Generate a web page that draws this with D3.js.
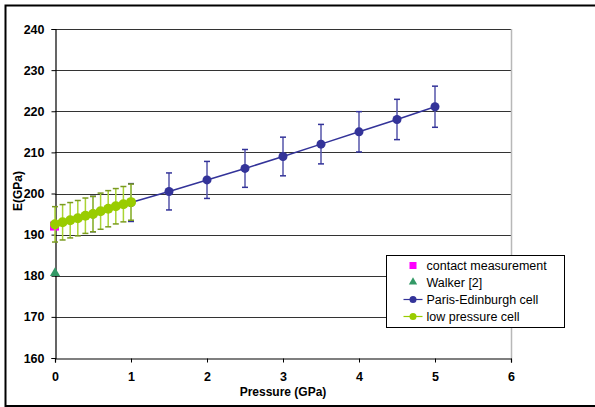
<!DOCTYPE html>
<html>
<head>
<meta charset="utf-8">
<script src="https://cdn.jsdelivr.net/npm/d3@7"></script>
<style>
  body { margin: 0; background: #fff; }
  svg { font-family: "Liberation Sans", Arial, sans-serif; }
</style>
</head>
<body>
<div id="chart"></div>
<script>
// data
const lowP = [0, 0.1, 0.2, 0.3, 0.4, 0.5, 0.6, 0.7, 0.8, 0.9, 1.0];
const lowE = [192.5, 193.0, 193.5, 194.0, 194.6, 195.0, 195.7, 196.3, 196.9, 197.4, 197.9];
const lowErr = [4.3, 4.3, 4.3, 4.3, 4.3, 4.3, 4.4, 4.4, 4.3, 4.3, 4.4];

const peP = [0.5, 1.0, 1.5, 2.0, 2.5, 3.0, 3.5, 4.0, 4.5, 5.0];
const peE = [195.0, 197.8, 200.5, 203.3, 206.1, 209.0, 212.0, 215.0, 218.0, 221.1];
const peErr = [4.3, 4.6, 4.5, 4.5, 4.6, 4.7, 4.8, 4.9, 4.9, 5.0];

const contact = [{ p: 0, e: 192.2 }];
const walker = [{ p: 0, e: 180.4 }];

const xTicks = [0, 1, 2, 3, 4, 5, 6];
const yTicks = [160, 170, 180, 190, 200, 210, 220, 230, 240];

const W = 595, H = 407;
const margin = { top: 29, right: 84, bottom: 49, left: 55 };

const svg = d3.select("#chart").append("svg")
  .attr("width", W)
  .attr("height", H);

// outer frame (right edge runs off the picture)
svg.append("rect")
  .attr("x", 5.5).attr("y", 5.5)
  .attr("width", 600).attr("height", 400.5)
  .attr("fill", "#fff")
  .attr("stroke", "#000")
  .attr("stroke-width", 2);

const x = d3.scaleLinear().domain([0, 6]).range([margin.left, W - margin.right]);
const y = d3.scaleLinear().domain([160, 240]).range([H - margin.bottom, margin.top]);

// gridlines
svg.append("g")
  .selectAll("line")
  .data(yTicks.slice(1))
  .join("line")
    .attr("x1", x(0)).attr("x2", x(6))
    .attr("y1", d => Math.round(y(d)) + 0.5)
    .attr("y2", d => Math.round(y(d)) + 0.5)
    .attr("stroke", "#333")
    .attr("stroke-width", 1);

// right plot edge
svg.append("line")
  .attr("x1", Math.round(x(6)) + 0.5).attr("x2", Math.round(x(6)) + 0.5)
  .attr("y1", y(240)).attr("y2", y(160))
  .attr("stroke", "#b8b8b8")
  .attr("stroke-width", 1.5);

// axes
const xAxis = svg.append("g")
  .attr("transform", `translate(0,${Math.round(y(160)) + 0.5})`)
  .call(d3.axisBottom(x).tickValues(xTicks).tickSize(4).tickPadding(10).tickFormat(d3.format("d")));
const yAxis = svg.append("g")
  .attr("transform", `translate(${Math.round(x(0)) + 0.5},0)`)
  .call(d3.axisLeft(y).tickValues(yTicks).tickSize(4).tickPadding(7).tickFormat(d3.format("d")));

[xAxis, yAxis].forEach(a => {
  a.select(".domain").attr("stroke", "#000").attr("stroke-width", 1.2);
  a.selectAll(".tick line").attr("stroke", "#000");
  a.selectAll(".tick text")
    .attr("font-size", 12.5)
    .attr("font-weight", "bold")
    .attr("font-family", "Liberation Sans, Arial, sans-serif")
    .attr("fill", "#000");
});

// axis titles
svg.append("text")
  .attr("x", 283).attr("y", 396)
  .attr("text-anchor", "middle")
  .attr("font-size", 12).attr("font-weight", "bold")
  .text("Pressure (GPa)");
svg.append("text")
  .attr("transform", "translate(22,191) rotate(-90)")
  .attr("text-anchor", "middle")
  .attr("font-size", 12).attr("font-weight", "bold")
  .text("E(GPa)");

// Paris-Edinburgh cell
const blue = "#333399";
const pe = peP.map((p, i) => ({ p, e: peE[i], err: peErr[i] }));
const low = lowP.map((p, i) => ({ p, e: lowE[i], err: lowErr[i] }));

function errorBars(g, data, color, capColor) {
  g.selectAll("line.bar")
    .data(data)
    .join("line")
      .attr("class", "bar")
      .attr("x1", d => x(d.p)).attr("x2", d => x(d.p))
      .attr("y1", d => y(d.e - d.err)).attr("y2", d => y(d.e + d.err))
      .attr("stroke", color).attr("stroke-width", 1.5);
  ["-", "+"].forEach(s => {
    g.selectAll(`line.cap${s === "-" ? "lo" : "hi"}`)
      .data(data)
      .join("line")
        .attr("class", `cap${s === "-" ? "lo" : "hi"}`)
        .attr("x1", d => x(d.p) - 3).attr("x2", d => x(d.p) + 3)
        .attr("y1", d => y(s === "-" ? d.e - d.err : d.e + d.err))
        .attr("y2", d => y(s === "-" ? d.e - d.err : d.e + d.err))
        .attr("stroke", capColor).attr("stroke-width", 1.5);
  });
}

const line = d3.line().x(d => x(d.p)).y(d => y(d.e));

const peG = svg.append("g");
errorBars(peG, pe, "#5555aa", blue);
peG.append("path").datum(pe)
  .attr("d", line).attr("fill", "none").attr("stroke", blue).attr("stroke-width", 1.5);
peG.selectAll("circle").data(pe).join("circle")
  .attr("cx", d => x(d.p)).attr("cy", d => y(d.e)).attr("r", 4.5).attr("fill", blue);

// contact measurement
svg.append("g").selectAll("rect").data(contact).join("rect")
  .attr("x", d => x(d.p) - 5).attr("y", d => y(d.e) - 4)
  .attr("width", 9).attr("height", 9).attr("fill", "#ff00ff");

// Walker
const tri = d3.symbol().type(d3.symbolTriangle).size(45);
svg.append("g").selectAll("path").data(walker).join("path")
  .attr("transform", d => `translate(${x(d.p)},${y(d.e) - 1})`)
  .attr("d", tri).attr("fill", "#339966");

// low pressure cell
const green = "#99cc00";
const lowG = svg.append("g");
errorBars(lowG, low, "#aad433", "#7a9a20");
lowG.append("path").datum(low)
  .attr("d", line).attr("fill", "none").attr("stroke", green).attr("stroke-width", 1.5);
lowG.selectAll("circle").data(low).join("circle")
  .attr("cx", d => x(d.p)).attr("cy", d => y(d.e)).attr("r", 5).attr("fill", green);

// legend
const lg = svg.append("g").attr("transform", "translate(386.5,255.5)");
lg.append("rect").attr("width", 178).attr("height", 72)
  .attr("fill", "#fff").attr("stroke", "#000").attr("stroke-width", 1);
const items = [
  { name: "contact measurement", type: "square", color: "#ff00ff" },
  { name: "Walker [2]", type: "triangle", color: "#339966" },
  { name: "Paris-Edinburgh cell", type: "line", color: blue },
  { name: "low pressure cell", type: "line", color: green }
];
items.forEach((it, i) => {
  const cy = 10 + i * 17;
  const g = lg.append("g").attr("transform", `translate(0,${cy})`);
  if (it.type === "square") {
    g.append("rect").attr("x", 23).attr("y", -3.5).attr("width", 7).attr("height", 7).attr("fill", it.color);
  } else if (it.type === "triangle") {
    g.append("path").attr("transform", "translate(26.5,-0.5)")
      .attr("d", d3.symbol().type(d3.symbolTriangle).size(30)).attr("fill", it.color);
  } else {
    g.append("line").attr("x1", 17).attr("x2", 36).attr("stroke", it.color).attr("stroke-width", 1.2);
    g.append("circle").attr("cx", 26.5).attr("r", 3.5).attr("fill", it.color);
  }
  g.append("text").attr("x", 40).attr("y", 4.5)
    .attr("font-size", 12.5).attr("fill", "#000").text(it.name);
});
</script>
</body>
</html>
